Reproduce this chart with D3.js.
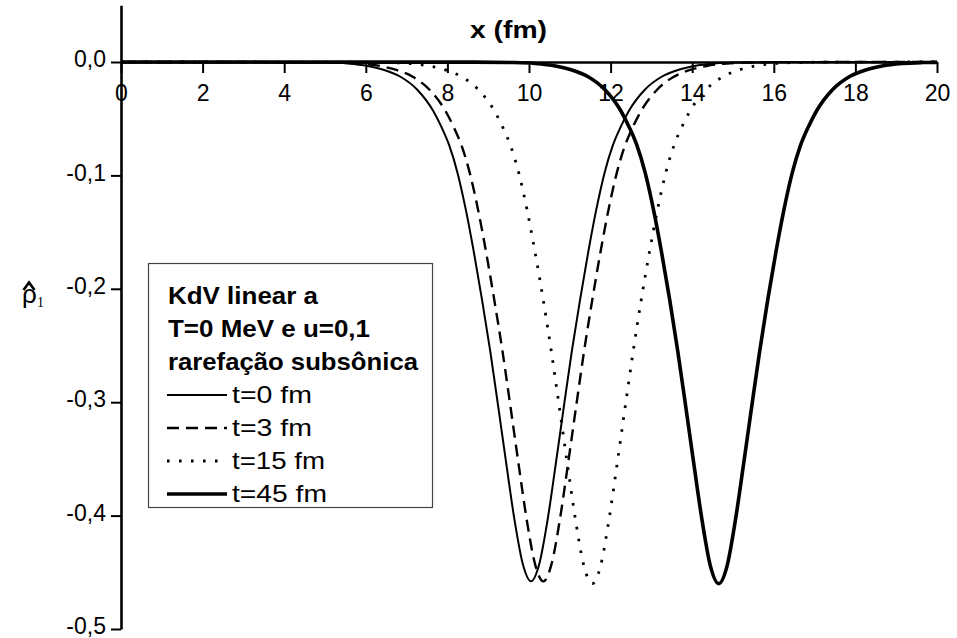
<!DOCTYPE html>
<html>
<head>
<meta charset="utf-8">
<script src="https://cdn.jsdelivr.net/npm/d3@7"></script>
<style>
  html, body { margin: 0; padding: 0; background: #fff; }
  svg { display: block; font-family: "Liberation Sans", Arial, sans-serif; }
</style>
</head>
<body>
<svg id="chart" width="957" height="638"></svg>
<script>
// Density perturbation profiles (KdV linear, T=0 MeV, u=0,1), x in fm
const xT0 = [0, 4.05, 5.05, 5.55, 6.05, 6.45, 6.85, 7.25, 7.65, 7.85, 8.05, 8.25, 8.45, 8.65, 8.85, 9.05, 9.25, 9.45, 9.65, 9.85, 10.05,
  10.25, 10.45, 10.65, 10.85, 11.05, 11.25, 11.45, 11.65, 11.85, 12.05, 12.25, 12.45, 12.85, 13.25, 13.65, 14.05, 14.55, 15.05, 16.05, 20];
const rhoT0 = [0, -0.0001, -0.0005, -0.0013, -0.0035, -0.007, -0.013, -0.024, -0.043, -0.057, -0.074, -0.098, -0.130, -0.168, -0.210, -0.255, -0.305, -0.356, -0.405, -0.443, -0.458,
  -0.443, -0.405, -0.356, -0.305, -0.255, -0.210, -0.168, -0.130, -0.098, -0.074, -0.057, -0.043, -0.024, -0.013, -0.007, -0.0035, -0.0013, -0.0005, -0.0001, 0];

const xT3 = [0, 4.35, 5.35, 5.85, 6.35, 6.75, 7.15, 7.55, 7.95, 8.15, 8.35, 8.55, 8.75, 8.95, 9.15, 9.35, 9.55, 9.75, 9.95, 10.15, 10.35,
  10.55, 10.75, 10.95, 11.15, 11.35, 11.55, 11.75, 11.95, 12.15, 12.35, 12.55, 12.75, 13.15, 13.55, 13.95, 14.35, 14.85, 15.35, 16.35, 20];
const rhoT3 = [0, -0.0001, -0.0005, -0.0013, -0.0035, -0.007, -0.013, -0.024, -0.043, -0.057, -0.074, -0.098, -0.130, -0.168, -0.210, -0.255, -0.305, -0.356, -0.405, -0.443, -0.458,
  -0.443, -0.405, -0.356, -0.305, -0.255, -0.210, -0.168, -0.130, -0.098, -0.074, -0.057, -0.043, -0.024, -0.013, -0.007, -0.0035, -0.0013, -0.0005, -0.0001, 0];

const xT15 = [0, 5.55, 6.55, 7.05, 7.55, 7.95, 8.35, 8.75, 9.15, 9.35, 9.55, 9.75, 9.95, 10.15, 10.35, 10.55, 10.75, 10.95, 11.15, 11.35, 11.55,
  11.75, 11.95, 12.15, 12.35, 12.55, 12.75, 12.95, 13.15, 13.35, 13.55, 13.75, 13.95, 14.35, 14.75, 15.15, 15.55, 16.05, 16.55, 17.55, 20];
const rhoT15 = [0, -0.0001, -0.0005, -0.0013, -0.0035, -0.007, -0.013, -0.024, -0.043, -0.057, -0.074, -0.098, -0.130, -0.168, -0.210, -0.256, -0.306, -0.357, -0.406, -0.445, -0.460,
  -0.445, -0.406, -0.357, -0.306, -0.256, -0.210, -0.168, -0.130, -0.098, -0.074, -0.057, -0.043, -0.024, -0.013, -0.007, -0.0035, -0.0013, -0.0005, -0.0001, 0];

const xT45 = [0, 8.65, 9.65, 10.15, 10.65, 11.05, 11.45, 11.85, 12.25, 12.45, 12.65, 12.85, 13.05, 13.25, 13.45, 13.65, 13.85, 14.05, 14.25, 14.45, 14.65,
  14.85, 15.05, 15.25, 15.45, 15.65, 15.85, 16.05, 16.25, 16.45, 16.65, 16.85, 17.05, 17.45, 17.85, 18.25, 18.65, 19.15, 19.65, 20];
const rhoT45 = [0, -0.0001, -0.0005, -0.0013, -0.0035, -0.007, -0.013, -0.024, -0.043, -0.057, -0.074, -0.098, -0.130, -0.168, -0.210, -0.256, -0.306, -0.357, -0.406, -0.445, -0.460,
  -0.445, -0.406, -0.357, -0.306, -0.256, -0.210, -0.168, -0.130, -0.098, -0.074, -0.057, -0.043, -0.024, -0.013, -0.007, -0.0035, -0.0013, -0.0005, -0.0003];

const seriesNames = ["t=0 fm", "t=3 fm", "t=15 fm", "t=45 fm"];
const xTicks = [0, 2, 4, 6, 8, 10, 12, 14, 16, 18, 20];
const xMinorTicks = [1, 3, 5, 7, 9, 11, 13, 15, 17, 19];
const yTicks = [0, -0.1, -0.2, -0.3, -0.4, -0.5];
const yMinorTicks = [0.05, -0.05, -0.15, -0.25, -0.35, -0.45];
const legendTitle = ["KdV linear a", "T=0 MeV e u=0,1", "rarefação subsônica"];

const svg = d3.select("#chart");
const x = d3.scaleLinear().domain([0, 20]).range([121, 937]);
const y = d3.scaleLinear().domain([0.05, -0.5]).range([5.3, 629]);

const fmtY = d => (d < 0 ? "-" : "") + Math.abs(d).toFixed(1).replace(".", ",");

// curves
const styles = [
  { width: 2, dash: null },
  { width: 2.4, dash: "12,7" },
  { width: 2.8, dash: "2.6,9.4" },
  { width: 3.6, dash: null }
];
const series = [
  { xs: xT0, ys: rhoT0 },
  { xs: xT3, ys: rhoT3 },
  { xs: xT15, ys: rhoT15 },
  { xs: xT45, ys: rhoT45 }
];
const line = d3.line().x(d => x(d[0])).y(d => y(d[1])).curve(d3.curveMonotoneX);
series.forEach((s, i) => {
  svg.append("path")
    .datum(s.xs.map((v, k) => [v, s.ys[k]]))
    .attr("d", line)
    .attr("fill", "none")
    .attr("stroke", "#000")
    .attr("stroke-width", styles[i].width)
    .attr("stroke-dasharray", styles[i].dash)
    .attr("stroke-linejoin", "round");
});

// x axis along rho = 0, ticks pointing down
const gx = svg.append("g").attr("transform", `translate(0,${y(0)})`);
gx.call(d3.axisBottom(x).tickValues(xMinorTicks).tickSize(6).tickSizeOuter(0).tickFormat(""));
gx.call(d3.axisBottom(x).tickValues(xTicks).tickSize(11).tickSizeOuter(0).tickPadding(12).tickFormat(d3.format("d")));
gx.selectAll(".domain").attr("stroke-width", 2.6);
gx.selectAll(".tick line").attr("stroke-width", 2);
gx.selectAll("text").attr("font-size", 23).attr("fill", "#000")
  .attr("font-family", "'Liberation Sans', Arial, sans-serif");

// y axis
const gy = svg.append("g").attr("transform", `translate(${x(0)},0)`);
gy.call(d3.axisLeft(y).tickValues(yMinorTicks).tickSize(6).tickSizeOuter(0).tickFormat(""));
gy.call(d3.axisLeft(y).tickValues(yTicks).tickSize(10).tickSizeOuter(0).tickPadding(5).tickFormat(fmtY));
gy.selectAll(".domain").attr("stroke-width", 2.6);
gy.selectAll(".tick line").attr("stroke-width", 2);
gy.selectAll("text").attr("font-size", 23).attr("fill", "#000").attr("dy", "0.2em")
  .attr("font-family", "'Liberation Sans', Arial, sans-serif");

// axis titles
svg.append("text").attr("x", 470).attr("y", 38)
  .attr("font-size", 24).attr("font-weight", "bold")
  .attr("textLength", 77).attr("lengthAdjust", "spacingAndGlyphs").text("x (fm)");
svg.append("text").attr("x", 22).attr("y", 303).attr("font-size", 26).text("ρ");
svg.append("path").attr("d", "M23.5,290 L29,282.5 L34.5,290")
  .attr("fill", "none").attr("stroke", "#000").attr("stroke-width", 2.6);
svg.append("text").attr("x", 37).attr("y", 307).attr("font-size", 14)
  .attr("font-family", "'Liberation Serif', 'Times New Roman', serif").text("1");

// legend
const titleWidths = [150, 202, 250];
const nameWidths = [80, 80, 93, 95];
const lg = svg.append("g");
lg.append("rect").attr("x", 148.5).attr("y", 263.5).attr("width", 284).attr("height", 244)
  .attr("fill", "#fff").attr("stroke", "#444").attr("stroke-width", 1.2);
legendTitle.forEach((t, i) => {
  lg.append("text").attr("x", 168).attr("y", 304 + i * 33)
    .attr("font-size", 24.5).attr("font-weight", "bold")
    .attr("textLength", titleWidths[i]).attr("lengthAdjust", "spacingAndGlyphs").text(t);
});
seriesNames.forEach((t, i) => {
  const yy = 403 + i * 33;
  lg.append("line").attr("x1", 167).attr("x2", 227).attr("y1", yy - 8).attr("y2", yy - 8)
    .attr("stroke", "#000").attr("stroke-width", styles[i].width)
    .attr("stroke-dasharray", styles[i].dash);
  lg.append("text").attr("x", 232).attr("y", yy).attr("font-size", 24)
    .attr("textLength", nameWidths[i]).attr("lengthAdjust", "spacingAndGlyphs").text(t);
});
</script>
</body>
</html>
